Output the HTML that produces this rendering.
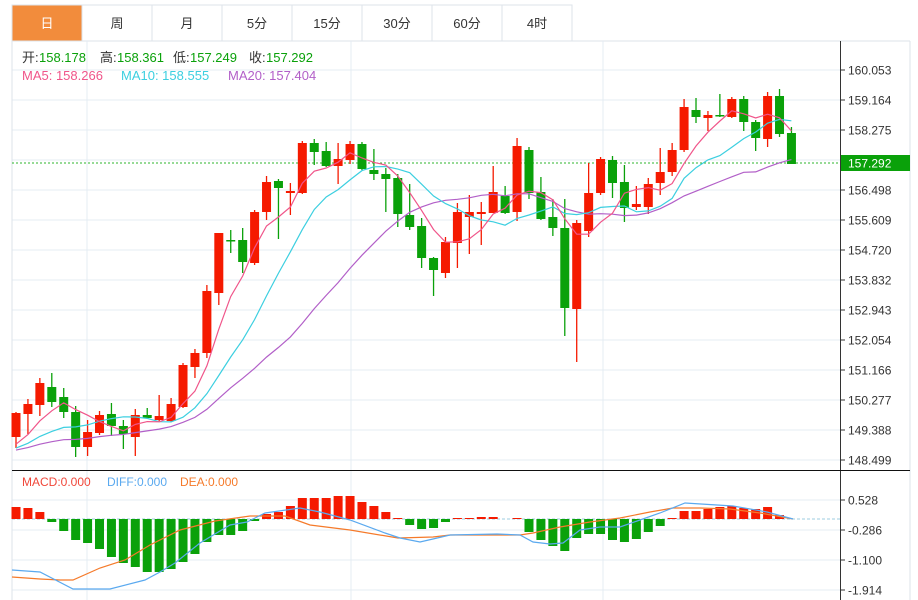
<!DOCTYPE html>
<html><head><meta charset="utf-8"><style>
body{margin:0;background:#fff;width:918px;height:600px;overflow:hidden;font-family:"Liberation Sans","Noto Sans CJK SC",sans-serif}
svg{position:absolute;left:0;top:0}
</style></head><body>
<svg id="s" width="918" height="600" xmlns="http://www.w3.org/2000/svg" font-family="Liberation Sans, Noto Sans CJK SC, sans-serif"></svg>
<script>
const C=[
['R',413,437,412,448],['R',404,414,399,434],['R',383,405,378,416],['G',387,402,373,407],['G',397,412,388,418],
['G',412,447,406,457],['R',432,447,420,456],['R',415,433,411,435],['G',414,426,403,436],['G',426,434,420,449],
['R',415,437,409,456],['G',415,418,408,419],['R',416,420,395,421],['R',404,421,398,422],['R',365,407,363,408],
['R',353,367,349,378],['R',291,353,285,358],['R',233,293,233,305],['G',240,241,230,253],['G',240,262,228,273],
['R',212,263,210,265],['R',182,212,176,220],['G',181,188,179,239],['R',191,193,183,215],['R',143,193,141,194],
['G',143,152,139,165],['G',151,166,142,167],['R',159,166,143,184],['R',144,160,141,164],['G',144,169,142,170],
['G',170,174,149,180],['G',174,179,168,212],['G',178,214,174,227],['G',215,227,184,230],['G',226,258,218,268],
['G',258,270,257,296],['R',242,273,237,278],['R',212,243,203,268],['R',212,217,195,254],['R',212,214,202,245],
['R',192,213,166,213],['G',196,213,186,214],['R',146,212,138,221],['G',150,193,147,199],['G',192,219,177,220],
['G',217,228,199,236],['G',228,308,199,336],['R',223,309,220,362],['R',193,231,163,237],['R',159,193,157,195],
['G',160,183,156,198],['G',182,208,165,222],['R',204,207,186,210],['R',184,207,178,214],['R',172,183,148,195],
['R',150,172,143,176],['R',107,150,99,152],['G',110,117,98,123],['R',115,118,111,131],['G',115,116,94,117],
['R',99,117,97,118],['G',99,122,96,131],['G',122,138,120,151],['R',96,139,92,147],['G',96,134,89,137],['G',133,164,127,164]];
const M=[507,508,512,522,531,540,543,549,557,563,567,572,572,569,562,554,542,535,535,531,521,514,512,506,498,498,498,496,496,502,506,512,518,525,529,528,522,518,518,517,517,519,518,532,540,546,551,538,534,534,540,542,539,532,526,518,511,511,509,507,506,508,509,507,515,519];
const DIFF=[[12,570],[40,572],[73,589],[110,589],[145,580],[160,572],[175,563],[200,543],[230,525],[247,522],[265,513],[300,508],[320,512],[350,520],[385,533],[400,538],[420,542],[433,539],[450,535],[497,534],[520,535],[533,542],[550,544],[563,543],[580,530],[600,527],[620,527],[640,520],[660,513],[685,503],[733,506],[767,512],[793,519]];
const DEA=[[12,577],[40,579],[60,580],[73,580],[100,568],[125,560],[150,545],[180,530],[215,521],[250,516],[285,516],[310,525],[350,530],[398,538],[433,537],[450,535],[520,535],[533,533],[560,527],[590,522],[620,518],[650,512],[673,508],[700,508],[730,509],[760,513],[793,519]];
let h='';
const X=i=>16+i*11.93;
const tabs=['日','周','月','5分','15分','30分','60分','4时'];
h+='<rect x="12" y="5" width="898" height="36" fill="#fff"/>';
tabs.forEach((t,i)=>{const x=12+i*70;
h+=`<rect x="${x}" y="5" width="70" height="36" fill="${i?'#fff':'#f28c3c'}" stroke="#dde3ea"/>`;
h+=`<text x="${x+35}" y="28" font-size="13" text-anchor="middle" fill="${i?'#333':'#fff'}">${t}</text>`;});
h+='<line x1="12" y1="41" x2="910" y2="41" stroke="#dde3ea"/>';
for(let y=70;y<=460;y+=30)h+=`<line x1="12" y1="${y}" x2="840" y2="${y}" stroke="#e4ecf3"/>`;
for(const y of [500,530,560,590])h+=`<line x1="12" y1="${y}" x2="840" y2="${y}" stroke="#e4ecf3"/>`;
for(const x of [87,351,603])h+=`<line x1="${x}" y1="41" x2="${x}" y2="600" stroke="#e4ecf3"/>`;
h+='<line x1="12" y1="41" x2="12" y2="600" stroke="#dde3ea"/><line x1="910" y1="41" x2="910" y2="600" stroke="#dde3ea"/>';
h+='<line x1="840.5" y1="41" x2="840.5" y2="600" stroke="#333"/>';
h+='<line x1="12" y1="470.5" x2="910" y2="470.5" stroke="#111"/>';
const pl=['160.053','159.164','158.275','157.386','156.498','155.609','154.720','153.832','152.943','152.054','151.166','150.277','149.388','148.499'];
pl.forEach((p,i)=>{const y=70+i*30;h+=`<line x1="840" y1="${y}" x2="845" y2="${y}" stroke="#333"/>`;if(i!=3)h+=`<text x="848" y="${y+4.5}" font-size="12" fill="#333">${p}</text>`;});
[['0.528',500],['-0.286',530],['-1.100',560],['-1.914',590]].forEach(([t,y])=>{h+=`<line x1="840" y1="${y}" x2="845" y2="${y}" stroke="#333"/><text x="848" y="${y+4.5}" font-size="12" fill="#333">${t}</text>`;});
h+='<line x1="12" y1="163" x2="840" y2="163" stroke="#2cb52c" stroke-dasharray="2,2"/>';
h+='<rect x="841" y="155" width="69" height="16" fill="#0aa10a"/><text x="848" y="167.5" font-size="12" fill="#fff">157.292</text>';
const cl=C.map(c=>c[0]=='R'?c[1]:c[2]);
const pad=Array(19).fill(452).concat(cl);
function ma(n){return cl.map((_,i)=>{let s=0;for(let k=0;k<n;k++)s+=pad[i+19-k];return s/n;});}
function pline(arr,col){return `<polyline fill="none" stroke="${col}" stroke-width="1.2" points="${arr.map((v,i)=>X(i).toFixed(1)+','+v.toFixed(1)).join(' ')}"/>`;}
C.forEach((c,i)=>{const x=X(i),col=c[0]=='R'?'#f51a00':'#0aa10a';
h+=`<line x1="${x}" y1="${c[3]}" x2="${x}" y2="${c[4]}" stroke="${col}" stroke-width="1.3"/>`;
h+=`<rect x="${x-4.5}" y="${c[1]}" width="9" height="${Math.max(1.5,c[2]-c[1])}" fill="${col}"/>`;});
h+=pline(ma(20),'#b25fc8')+pline(ma(10),'#3ccfe0')+pline(ma(5),'#f0558a');
h+='<line x1="12" y1="519" x2="840" y2="519" stroke="#9ccde0" stroke-dasharray="3,2"/>';
M.forEach((y,i)=>{const x=X(i);if(Math.abs(y-519)<0.6)return;const col=y<519?'#f51a00':'#0aa10a';
h+=`<rect x="${x-4.5}" y="${Math.min(y,519)}" width="9" height="${Math.abs(y-519)}" fill="${col}"/>`;});
h+=`<polyline fill="none" stroke="#f57a2a" stroke-width="1.2" points="${DEA.map(p=>p.join(',')).join(' ')}"/>`;
h+=`<polyline fill="none" stroke="#5aa9ef" stroke-width="1.2" points="${DIFF.map(p=>p.join(',')).join(' ')}"/>`;
const T=(x,y,s,c,t)=>`<text x="${x}" y="${y}" font-size="${s}" fill="${c}">${t}</text>`;
h+=T(22,62,13,'#333','开:')+T(39,62,13,'#0aa10a','158.178');
h+=T(100,62,13,'#333','高:')+T(117,62,13,'#0aa10a','158.361');
h+=T(173,62,13,'#333','低:')+T(190,62,13,'#0aa10a','157.249');
h+=T(249,62,13,'#333','收:')+T(266,62,13,'#0aa10a','157.292');
h+=T(22,80,13,'#f0558a','MA5: 158.266')+T(121,80,13,'#3ccfe0','MA10: 158.555')+T(228,80,13,'#b25fc8','MA20: 157.404');
h+=T(22,486,12,'#f0473a','MACD:0.000')+T(107,486,12,'#5aa9ef','DIFF:0.000')+T(180,486,12,'#f57a2a','DEA:0.000');
document.getElementById('s').innerHTML=h;
</script>
</body></html>
